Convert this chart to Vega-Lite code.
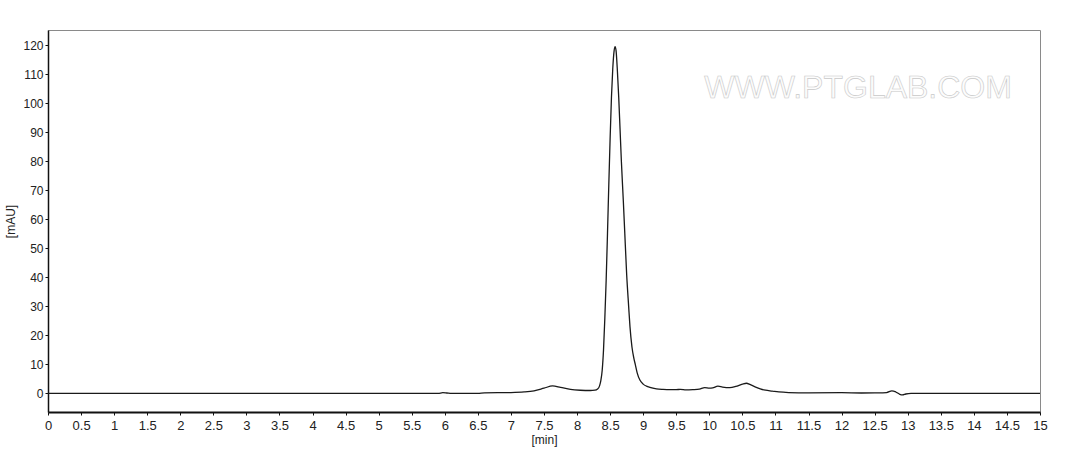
{
  "$schema": "https://vega.github.io/schema/vega-lite/v6.json",
  "background": "white",
  "autosize": "none",
  "padding": {"left": 48, "top": 30, "right": 33, "bottom": 38},
  "width": 992,
  "height": 382,
  "config": {
    "view": {"stroke": "#8a8a8a", "strokeWidth": 1},
    "axis": {
      "labelFont": "Liberation Sans",
      "titleFont": "Liberation Sans",
      "labelFontSize": 12,
      "titleFontSize": 12,
      "titleFontWeight": "normal",
      "labelColor": "#222",
      "titleColor": "#222",
      "grid": false,
      "domainColor": "#111",
      "tickColor": "#111",
      "tickSize": 3,
      "labelOverlap": false
    }
  },
  "encoding": {
    "x": {
      "field": "t",
      "type": "quantitative",
      "title": "[min]",
      "scale": {"domain": [0, 15], "nice": false, "zero": false},
      "axis": {
        "values": [0, 0.5, 1, 1.5, 2, 2.5, 3, 3.5, 4, 4.5, 5, 5.5, 6, 6.5, 7, 7.5, 8, 8.5, 9, 9.5, 10, 10.5, 11, 11.5, 12, 12.5, 13, 13.5, 14, 14.5, 15],
        "format": "~f",
        "labelFontSize": 13,
        "labelFlush": false,
        "domainWidth": 2,
        "labelPadding": 4,
        "titlePadding": 2
      }
    },
    "y": {
      "field": "mau",
      "type": "quantitative",
      "title": "[mAU]",
      "scale": {"domain": [-6.4, 125.2], "nice": false, "zero": false},
      "axis": {
        "values": [0, 10, 20, 30, 40, 50, 60, 70, 80, 90, 100, 110, 120],
        "format": "d",
        "domainWidth": 1.5,
        "labelPadding": 2,
        "titlePadding": 5
      }
    }
  },
  "layer": [
    {
      "data": {
        "values": [
          {"t": 0, "mau": 0},
          {"t": 2, "mau": 0},
          {"t": 4, "mau": 0},
          {"t": 5.9, "mau": 0},
          {"t": 5.97, "mau": 0.25},
          {"t": 6.03, "mau": 0.15},
          {"t": 6.1, "mau": 0},
          {"t": 6.5, "mau": 0.05},
          {"t": 6.6, "mau": 0.2},
          {"t": 7.0, "mau": 0.3},
          {"t": 7.2, "mau": 0.5},
          {"t": 7.35, "mau": 0.9},
          {"t": 7.5, "mau": 1.8},
          {"t": 7.63, "mau": 2.6},
          {"t": 7.75, "mau": 2.1},
          {"t": 7.9, "mau": 1.4},
          {"t": 8.05, "mau": 1.1},
          {"t": 8.2, "mau": 1.0},
          {"t": 8.27, "mau": 1.1},
          {"t": 8.31, "mau": 1.5},
          {"t": 8.34, "mau": 2.6},
          {"t": 8.36, "mau": 4.5},
          {"t": 8.38, "mau": 8},
          {"t": 8.4, "mau": 15},
          {"t": 8.42, "mau": 26},
          {"t": 8.44, "mau": 39},
          {"t": 8.46, "mau": 55},
          {"t": 8.48, "mau": 72},
          {"t": 8.5, "mau": 88},
          {"t": 8.52, "mau": 102},
          {"t": 8.54, "mau": 112},
          {"t": 8.56, "mau": 118},
          {"t": 8.575, "mau": 119.5},
          {"t": 8.59, "mau": 118},
          {"t": 8.61, "mau": 111},
          {"t": 8.63, "mau": 102},
          {"t": 8.65, "mau": 91},
          {"t": 8.67, "mau": 80},
          {"t": 8.7, "mau": 66},
          {"t": 8.72, "mau": 56},
          {"t": 8.75, "mau": 41},
          {"t": 8.78, "mau": 30},
          {"t": 8.8, "mau": 23},
          {"t": 8.83, "mau": 16},
          {"t": 8.86, "mau": 12},
          {"t": 8.88, "mau": 10},
          {"t": 8.91, "mau": 7},
          {"t": 8.95, "mau": 4.6},
          {"t": 9.0, "mau": 3.2},
          {"t": 9.05, "mau": 2.5},
          {"t": 9.1, "mau": 2.1},
          {"t": 9.2, "mau": 1.6},
          {"t": 9.3, "mau": 1.4},
          {"t": 9.4, "mau": 1.3},
          {"t": 9.5, "mau": 1.3},
          {"t": 9.56, "mau": 1.4},
          {"t": 9.65, "mau": 1.2},
          {"t": 9.75, "mau": 1.3},
          {"t": 9.85, "mau": 1.5},
          {"t": 9.93, "mau": 2.0},
          {"t": 10.0, "mau": 1.8},
          {"t": 10.05, "mau": 1.9},
          {"t": 10.13, "mau": 2.5},
          {"t": 10.2, "mau": 2.2},
          {"t": 10.31, "mau": 2.0},
          {"t": 10.4, "mau": 2.4},
          {"t": 10.5, "mau": 3.2},
          {"t": 10.56, "mau": 3.5},
          {"t": 10.62, "mau": 3.0},
          {"t": 10.7, "mau": 2.2},
          {"t": 10.77, "mau": 1.6},
          {"t": 10.85, "mau": 1.1},
          {"t": 10.95, "mau": 0.8},
          {"t": 11.05, "mau": 0.5},
          {"t": 11.2, "mau": 0.3},
          {"t": 11.5, "mau": 0.2},
          {"t": 12.0, "mau": 0.25},
          {"t": 12.3, "mau": 0.15},
          {"t": 12.5, "mau": 0.2},
          {"t": 12.68, "mau": 0.3},
          {"t": 12.76, "mau": 0.9},
          {"t": 12.82, "mau": 0.5},
          {"t": 12.88, "mau": -0.3},
          {"t": 12.92, "mau": -0.5},
          {"t": 12.97, "mau": -0.2},
          {"t": 13.05, "mau": 0.0},
          {"t": 14, "mau": 0.0},
          {"t": 15, "mau": 0.0}
        ]
      },
      "mark": {"type": "line", "color": "#1a1a1a", "strokeWidth": 1.3, "interpolate": "monotone", "clip": true}
    },
    {
      "data": {"values": [{"t": 12.25, "mau": 105.2, "label": "WWW.PTGLAB.COM"}]},
      "mark": {
        "type": "text",
        "font": "Liberation Sans",
        "fontSize": 32,
        "fill": "#fcfcfc",
        "stroke": "#c8c8c8",
        "strokeWidth": 0.6,
        "align": "center",
        "baseline": "middle",
        "letterSpacing": 2
      },
      "encoding": {
        "text": {"field": "label"}
      }
    }
  ]
}
